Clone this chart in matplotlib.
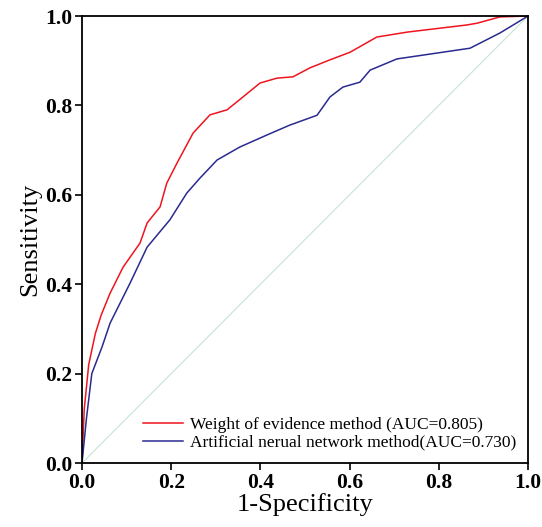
import matplotlib
matplotlib.use("Agg")
import matplotlib.pyplot as plt

# ROC curves (1-specificity, sensitivity)
woe_fpr = [0, 0.005, 0.015, 0.03, 0.043, 0.063, 0.092, 0.13, 0.146, 0.175, 0.19, 0.213,
           0.249, 0.287, 0.325, 0.361, 0.399, 0.437, 0.473, 0.511, 0.556, 0.601, 0.661,
           0.729, 0.863, 0.886, 0.937, 1.0]
woe_tpr = [0, 0.12, 0.22, 0.29, 0.331, 0.38, 0.438, 0.492, 0.537, 0.573, 0.626, 0.671,
           0.738, 0.779, 0.790, 0.819, 0.850, 0.861, 0.864, 0.884, 0.902, 0.919, 0.953,
           0.964, 0.98, 0.984, 0.998, 1.0]
ann_fpr = [0, 0.01, 0.022, 0.045, 0.063, 0.108, 0.146, 0.197, 0.235, 0.265, 0.303, 0.354,
           0.415, 0.466, 0.527, 0.556, 0.585, 0.623, 0.646, 0.706, 0.87, 0.937, 1.0]
ann_tpr = [0, 0.1, 0.20, 0.26, 0.313, 0.403, 0.483, 0.544, 0.604, 0.638, 0.678, 0.707,
           0.734, 0.756, 0.778, 0.819, 0.841, 0.852, 0.879, 0.904, 0.928, 0.962, 1.0]
ticks = [0.0, 0.2, 0.4, 0.6, 0.8, 1.0]

plt.rcParams['font.family'] = ['Liberation Serif', 'DejaVu Serif']

fig = plt.figure(figsize=(5.42, 5.27), dpi=100)
ax = fig.add_axes([0.1513, 0.1214, 0.8229, 0.8482])

ax.plot([0, 1], [0, 1], color='#c6e4d2', lw=0.8)
ax.plot(woe_fpr, woe_tpr, color='#f0141e', lw=1.1,
        label='Weight of evidence method (AUC=0.805)')
ax.plot(ann_fpr, ann_tpr, color='#2a2a90', lw=1.1,
        label='Artificial nerual network method(AUC=0.730)')

ax.set_xlim(0, 1)
ax.set_ylim(0, 1)
ax.set_xticks(ticks)
ax.set_yticks(ticks)
ax.set_xticklabels(['%.1f' % t for t in ticks], fontweight='bold', fontsize=15.5)
ax.set_yticklabels(['%.1f' % t for t in ticks], fontweight='bold', fontsize=15.5)
ax.tick_params(direction='out', length=5, width=1.2, top=False, right=False, pad=2)
for s in ax.spines.values():
    s.set_linewidth(1.3)

ax.set_xlabel('1-Specificity', fontsize=19, labelpad=0)
ax.set_ylabel('Sensitivity', fontsize=19, labelpad=3)

ax.legend(loc='lower right', frameon=False, fontsize=12.5, handlelength=2.3,
          handletextpad=0.4, labelspacing=0.1, borderaxespad=0.3,
          bbox_to_anchor=(1.0, 0.0))

fig.savefig('out.png', dpi=100)
